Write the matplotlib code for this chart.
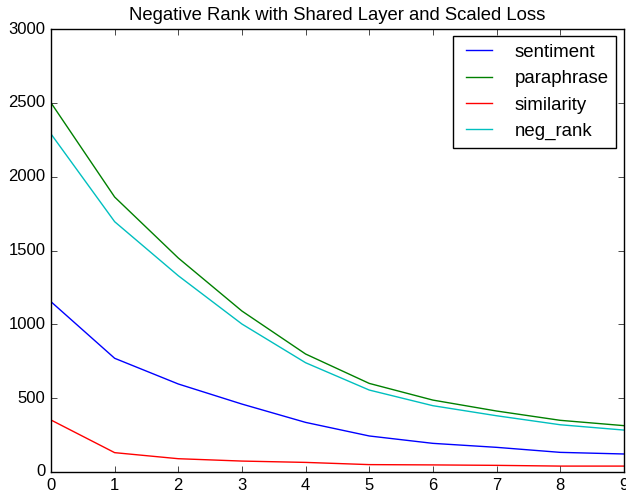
import matplotlib
matplotlib.use("Agg")
from matplotlib import pyplot as plt

plt.style.use("classic")
plt.rcParams['font.family'] = ['Liberation Sans', 'DejaVu Sans']

epochs = [0, 1, 2, 3, 4, 5, 6, 7, 8, 9]
sentiment = [1153, 770, 596, 460, 336, 244, 194, 167, 133, 122]
paraphrase = [2500, 1862, 1449, 1090, 799, 600, 487, 413, 350, 314]
similarity = [352, 131, 90, 74, 65, 50, 48, 45, 40, 40]
neg_rank = [2289, 1695, 1329, 1002, 740, 555, 449, 381, 320, 284]

fig = plt.figure(figsize=(6.26, 5.0), dpi=100, facecolor='white')
ax = fig.add_axes([0.0815, 0.056, 0.915, 0.886])

ax.plot(epochs, sentiment, color='b', label='sentiment')
ax.plot(epochs, paraphrase, color='g', label='paraphrase')
ax.plot(epochs, similarity, color='r', label='similarity')
ax.plot(epochs, neg_rank, color='c', label='neg_rank')

ax.set_xlim(0, 9)
ax.set_ylim(0, 3000)
ax.tick_params(labelsize=12)
ax.set_title("Negative Rank with Shared Layer and Scaled Loss", fontsize=13.3, y=1.005)
ax.legend(loc='upper right', fontsize=13.4, handletextpad=0.9, borderaxespad=0.4)

fig.savefig('out.png', dpi=100, facecolor='white')
